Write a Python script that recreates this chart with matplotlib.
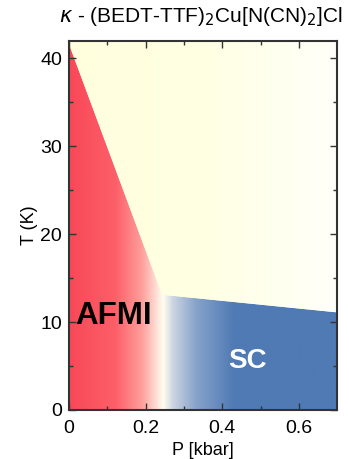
import numpy as np
import matplotlib.pyplot as plt
from matplotlib.colors import LinearSegmentedColormap
from matplotlib.patches import Polygon

plt.rcParams['font.family'] = ['Liberation Sans', 'DejaVu Sans']
plt.rcParams['mathtext.fontset'] = 'dejavusans'

# phase boundary points (P in kbar, T in K)
afm_P = [0.0, 0.243]
afm_T = [41.6, 13.1]
sc_P = [0.243, 0.70]
sc_T = [13.1, 11.1]

x_ticks = [0, 0.2, 0.4, 0.6]
y_ticks = [0, 10, 20, 30, 40]

# gradient stops along pressure for the low-T region
grad_P = [0.0, 0.12, 0.19, 0.225, 0.245, 0.27, 0.33, 0.43, 0.70]
grad_col = [(249, 72, 88), (252, 95, 105), (253, 160, 155), (255, 220, 210),
            (255, 255, 240), (205, 213, 226), (135, 163, 202), (80, 122, 180), (79, 122, 180)]

xmin, xmax = 0, 0.70
ymin, ymax = 0, 42

fig = plt.figure(figsize=(3.49, 4.59), dpi=100)
ax = fig.add_axes([0.198, 0.107, 0.768, 0.804])

# lower region: red -> white -> blue
pos = [(p - xmin) / (xmax - xmin) for p in grad_P]
cm = LinearSegmentedColormap.from_list('afsc', list(zip(pos, [tuple(c / 255 for c in col) for col in grad_col])))
g = np.linspace(0, 1, 512).reshape(1, -1)
im = ax.imshow(g, cmap=cm, extent=[xmin, xmax, ymin, ymax], aspect='auto', origin='lower', zorder=1)
lower = Polygon([(xmin, ymin), (afm_P[0], afm_T[0]), (afm_P[1], afm_T[1]), (sc_P[1], sc_T[1]), (xmax, ymin)],
                closed=True, transform=ax.transData, fc='none', ec='none')
ax.add_patch(lower)
im.set_clip_path(lower)

# upper region: pale yellow -> white
cm2 = LinearSegmentedColormap.from_list('yel', [(1, 1, 0.87), (1, 1, 0.89), (1, 1, 0.98)])
im2 = ax.imshow(g, cmap=cm2, extent=[xmin, xmax, ymin, ymax], aspect='auto', origin='lower', zorder=1)
upper = Polygon([(afm_P[0], afm_T[0]), (afm_P[0], ymax), (xmax, ymax), (sc_P[1], sc_T[1]), (afm_P[1], afm_T[1])],
                closed=True, transform=ax.transData, fc='none', ec='none')
ax.add_patch(upper)
im2.set_clip_path(upper)

ax.set_xlim(xmin, xmax)
ax.set_ylim(ymin, ymax)
ax.set_xticks(x_ticks)
ax.set_xticklabels(['0', '0.2', '0.4', '0.6'])
ax.set_yticks(y_ticks)
ax.set_xticks(np.arange(0.1, 0.7, 0.2), minor=True)
ax.set_yticks([5, 15, 25, 35], minor=True)
ax.tick_params(which='both', direction='in', top=True, right=True, color='#333333', labelsize=14, width=1.0)
ax.tick_params(which='major', length=5)
ax.tick_params(axis='x', which='major', pad=7)
ax.tick_params(axis='y', which='major', pad=5)
ax.tick_params(which='minor', length=3)
for s in ax.spines.values():
    s.set_color('#333333')
    s.set_linewidth(1.5)
    s.set_zorder(5)

ax.set_xlabel('P [kbar]', fontsize=13, labelpad=4)
ax.set_ylabel('T (K)', fontsize=13, labelpad=2)
fig.text(0.575, 0.965, r'$\kappa$ - (BEDT-TTF)$_2$Cu[N(CN)$_2$]Cl', fontsize=15, ha='center', va='center')

ax.text(0.015, 10.7, 'AFMI', fontsize=22.5, fontweight='bold', color='black', va='center', ha='left', zorder=4)
ax.text(0.465, 5.6, 'SC', fontsize=20, fontweight='bold', color='white', va='center', ha='center', zorder=4)

plt.savefig('out.png', dpi=100)
